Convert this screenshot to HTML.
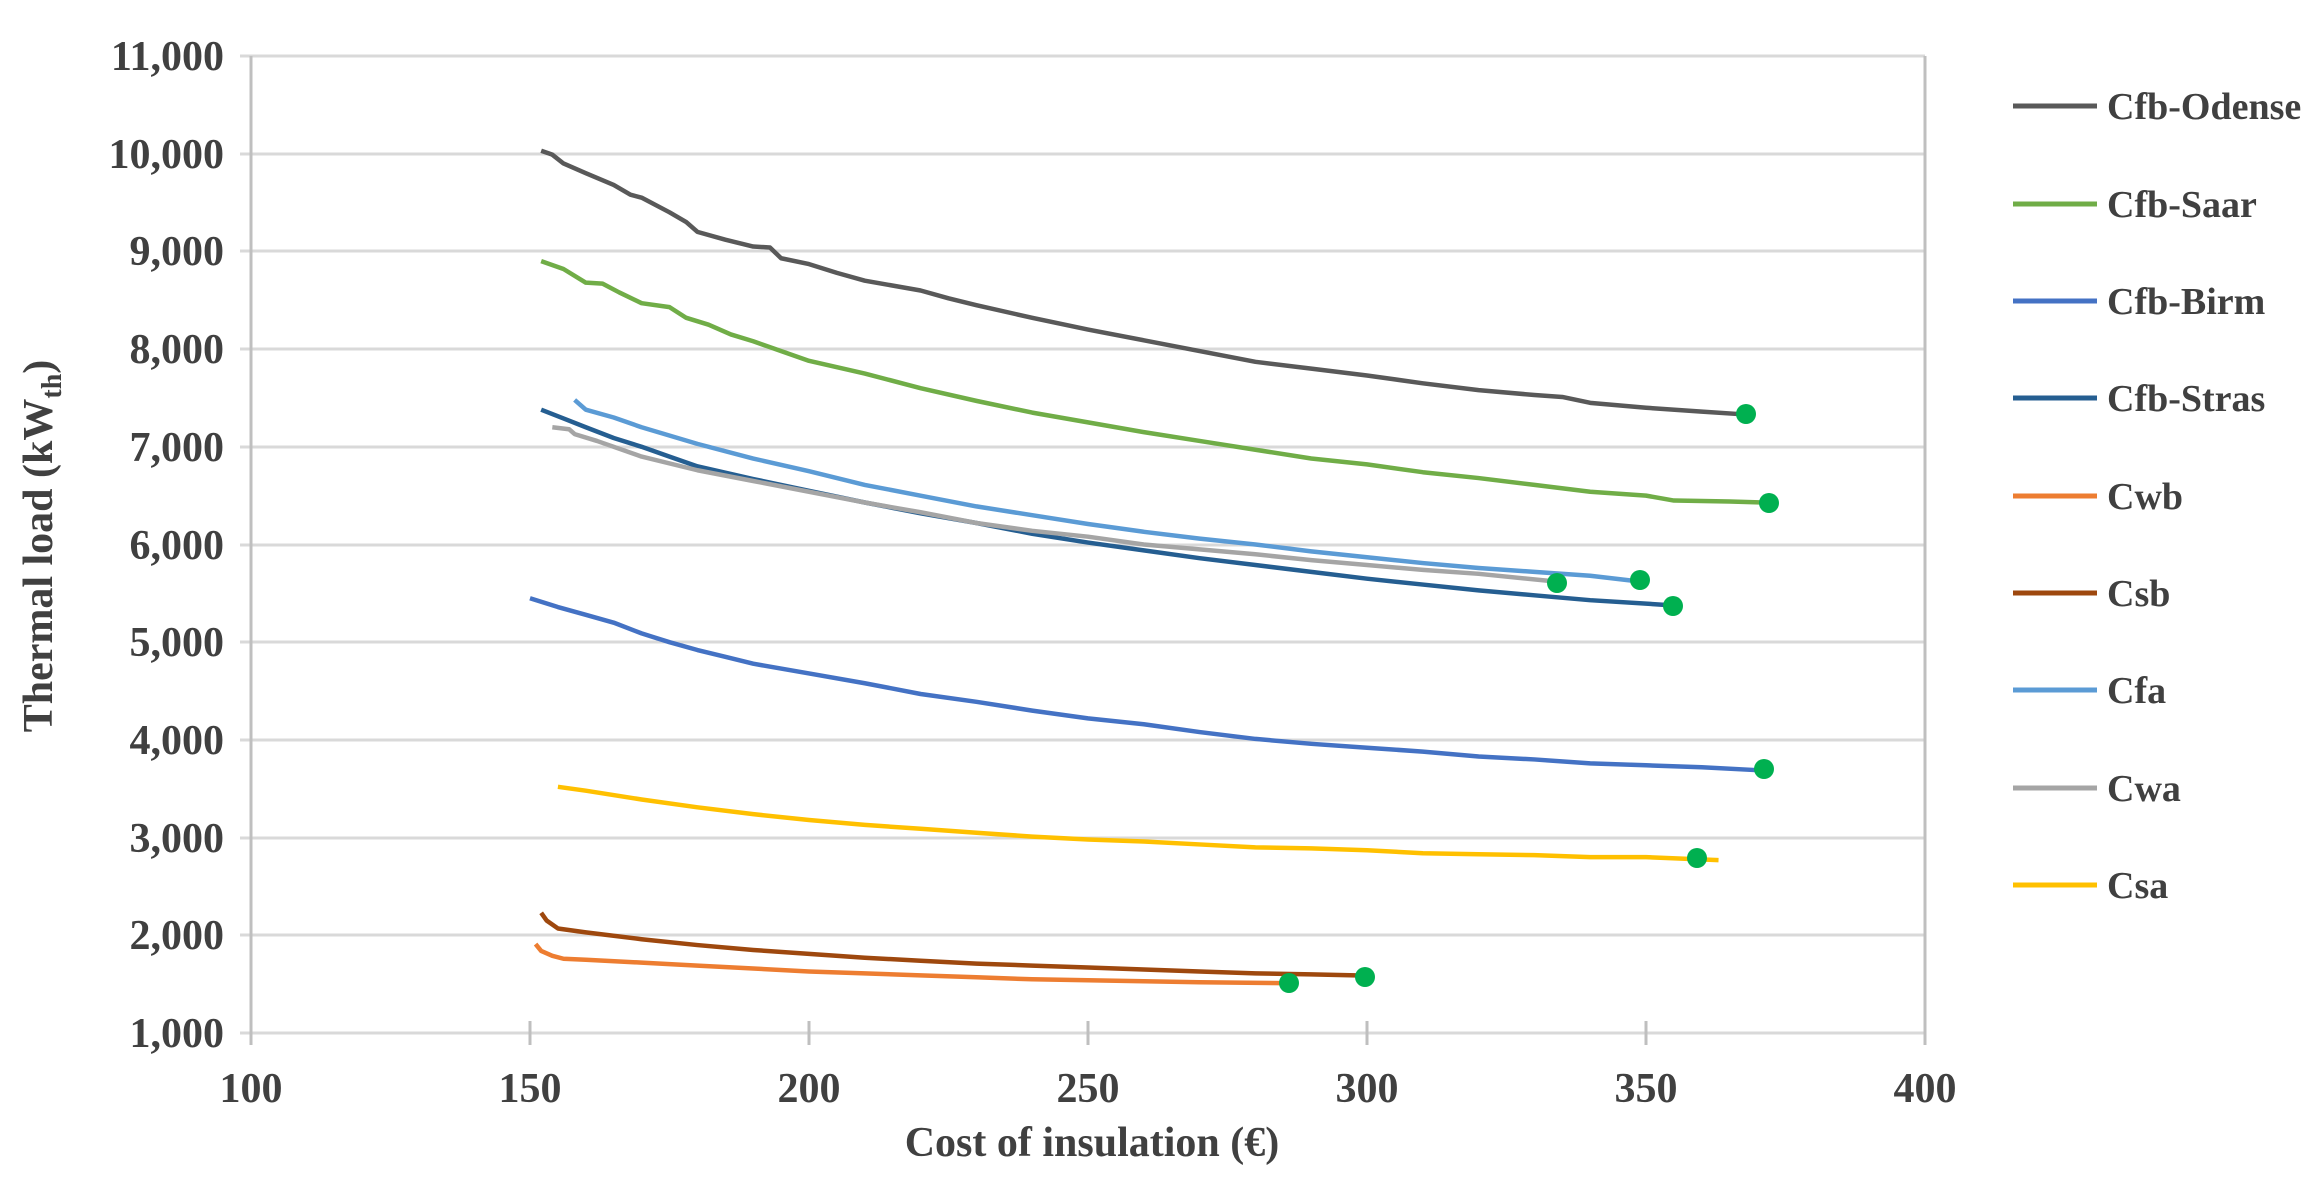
<!DOCTYPE html>
<html><head><meta charset="utf-8"><style>
html,body{margin:0;padding:0;background:#fff;}
svg text{font-family:"Liberation Serif",serif;font-weight:bold;fill:#404040;}
</style></head><body>
<svg width="2313" height="1186" viewBox="0 0 2313 1186" xmlns="http://www.w3.org/2000/svg">
<g stroke="#d9d9d9" stroke-width="3">
<line x1="240" y1="56" x2="1925" y2="56"/>
<line x1="240" y1="154" x2="1925" y2="154"/>
<line x1="240" y1="251" x2="1925" y2="251"/>
<line x1="240" y1="349" x2="1925" y2="349"/>
<line x1="240" y1="447" x2="1925" y2="447"/>
<line x1="240" y1="545" x2="1925" y2="545"/>
<line x1="240" y1="642" x2="1925" y2="642"/>
<line x1="240" y1="740" x2="1925" y2="740"/>
<line x1="240" y1="838" x2="1925" y2="838"/>
<line x1="240" y1="935" x2="1925" y2="935"/>
<line x1="240" y1="1033" x2="1925" y2="1033"/>
<line x1="251" y1="56" x2="251" y2="1045" stroke="#bfbfbf"/>
<line x1="1925" y1="56" x2="1925" y2="1045" stroke="#bfbfbf"/>
<line x1="530" y1="1021" x2="530" y2="1045" stroke="#bfbfbf"/>
<line x1="809" y1="1021" x2="809" y2="1045" stroke="#bfbfbf"/>
<line x1="1088" y1="1021" x2="1088" y2="1045" stroke="#bfbfbf"/>
<line x1="1367" y1="1021" x2="1367" y2="1045" stroke="#bfbfbf"/>
<line x1="1646" y1="1021" x2="1646" y2="1045" stroke="#bfbfbf"/>
</g>
<g font-size="42" text-anchor="end">
<text x="224" y="70">11,000</text><text x="224" y="168">10,000</text>
<text x="224" y="265">9,000</text><text x="224" y="363">8,000</text>
<text x="224" y="461">7,000</text><text x="224" y="559">6,000</text>
<text x="224" y="656">5,000</text><text x="224" y="754">4,000</text>
<text x="224" y="852">3,000</text><text x="224" y="949">2,000</text>
<text x="224" y="1047">1,000</text>
</g>
<g font-size="42" text-anchor="middle">
<text x="251" y="1102">100</text><text x="530" y="1102">150</text>
<text x="809" y="1102">200</text><text x="1088" y="1102">250</text>
<text x="1367" y="1102">300</text><text x="1646" y="1102">350</text>
<text x="1925" y="1102">400</text>
<text x="1092" y="1156">Cost of insulation  (€)</text>
<text transform="translate(52,546) rotate(-90)">Thermal load (kW<tspan font-size="28" dy="9">th</tspan><tspan dy="-9">)</tspan></text>
</g>
<g fill="none" stroke-width="4.5" stroke-linejoin="round" transform="matrix(5.58 0 0 -0.0977 -307 1130.7)">
<polyline vector-effect="non-scaling-stroke" stroke="#595959" points="152,10030 154,9990 156,9900 160,9800 165,9680 168,9580 170,9550 175,9400 178,9300 180,9200 185,9120 190,9050 193,9040 195,8930 200,8870 205,8780 210,8700 220,8600 225,8520 230,8450 240,8320 250,8200 260,8090 270,7980 280,7870 290,7800 300,7730 310,7650 320,7580 330,7530 335,7510 340,7450 350,7400 360,7360 368,7330"/>
<polyline vector-effect="non-scaling-stroke" stroke="#70ad47" points="152,8900 156,8820 160,8680 163,8670 166,8580 170,8470 175,8430 178,8320 182,8250 186,8150 190,8080 200,7880 210,7750 220,7600 230,7470 240,7350 250,7250 260,7150 270,7060 280,6970 290,6880 300,6820 310,6740 320,6680 330,6610 340,6540 350,6500 355,6450 365,6440 371,6430"/>
<polyline vector-effect="non-scaling-stroke" stroke="#4472c4" points="150,5450 155,5360 160,5280 165,5200 170,5090 175,5000 180,4920 185,4850 190,4780 200,4680 210,4580 220,4470 230,4390 240,4300 250,4220 260,4160 270,4080 280,4010 290,3960 300,3920 310,3880 320,3830 330,3800 340,3760 350,3740 360,3720 370,3690"/>
<polyline vector-effect="non-scaling-stroke" stroke="#255e91" points="152,7380 156,7290 160,7200 165,7090 170,7000 175,6900 180,6800 190,6670 200,6550 210,6430 220,6320 230,6220 240,6110 250,6020 260,5940 270,5860 280,5790 290,5720 300,5650 310,5590 320,5530 330,5480 340,5430 354,5380"/>
<polyline vector-effect="non-scaling-stroke" stroke="#a5a5a5" points="154,7200 157,7180 158,7130 162,7060 170,6900 180,6760 190,6650 200,6540 210,6430 220,6330 230,6220 240,6140 250,6080 260,6000 270,5950 280,5900 290,5840 300,5790 310,5740 320,5700 334,5620"/>
<polyline vector-effect="non-scaling-stroke" stroke="#5b9bd5" points="158,7480 160,7380 165,7300 170,7200 180,7030 190,6880 200,6750 210,6610 220,6500 230,6390 240,6300 250,6210 260,6130 270,6060 280,6000 290,5930 300,5870 310,5810 320,5760 330,5720 340,5680 349,5620"/>
<polyline vector-effect="non-scaling-stroke" stroke="#ffc000" points="155,3520 160,3480 170,3390 180,3310 190,3240 200,3180 210,3130 220,3090 230,3050 240,3010 250,2980 260,2960 270,2930 280,2900 290,2890 300,2870 310,2840 320,2830 330,2820 340,2800 350,2800 363,2770"/>
<polyline vector-effect="non-scaling-stroke" stroke="#9e480e" points="152,2230 153,2150 155,2070 160,2030 170,1960 180,1900 190,1850 200,1810 210,1770 220,1740 230,1710 240,1690 250,1670 260,1650 270,1630 280,1610 290,1600 298,1590"/>
<polyline vector-effect="non-scaling-stroke" stroke="#ed7d31" points="151,1910 152,1840 154,1790 156,1760 160,1750 170,1720 180,1690 190,1660 200,1630 210,1610 220,1590 230,1570 240,1550 250,1540 260,1530 270,1520 285,1510"/>
</g>
<g fill="#00b050">
<circle cx="1746" cy="414" r="10"/>
<circle cx="1769" cy="503" r="10"/>
<circle cx="1764" cy="769" r="10"/>
<circle cx="1673" cy="606" r="10"/>
<circle cx="1640" cy="580" r="10"/>
<circle cx="1557" cy="583" r="10"/>
<circle cx="1697" cy="858" r="10"/>
<circle cx="1365" cy="977" r="10"/>
<circle cx="1289" cy="983" r="10"/>
</g>
<g stroke-width="5">
<line x1="2013" y1="106" x2="2097" y2="106" stroke="#595959"/>
<line x1="2013" y1="204" x2="2097" y2="204" stroke="#70ad47"/>
<line x1="2013" y1="301" x2="2097" y2="301" stroke="#4472c4"/>
<line x1="2013" y1="398" x2="2097" y2="398" stroke="#255e91"/>
<line x1="2013" y1="496" x2="2097" y2="496" stroke="#ed7d31"/>
<line x1="2013" y1="593" x2="2097" y2="593" stroke="#9e480e"/>
<line x1="2013" y1="690" x2="2097" y2="690" stroke="#5b9bd5"/>
<line x1="2013" y1="788" x2="2097" y2="788" stroke="#a5a5a5"/>
<line x1="2013" y1="885" x2="2097" y2="885" stroke="#ffc000"/>
</g>
<g font-size="38">
<text x="2107" y="119">Cfb-Odense</text>
<text x="2107" y="217">Cfb-Saar</text>
<text x="2107" y="314">Cfb-Birm</text>
<text x="2107" y="411">Cfb-Stras</text>
<text x="2107" y="509">Cwb</text>
<text x="2107" y="606">Csb</text>
<text x="2107" y="703">Cfa</text>
<text x="2107" y="801">Cwa</text>
<text x="2107" y="898">Csa</text>
</g>
</svg>
</body></html>
